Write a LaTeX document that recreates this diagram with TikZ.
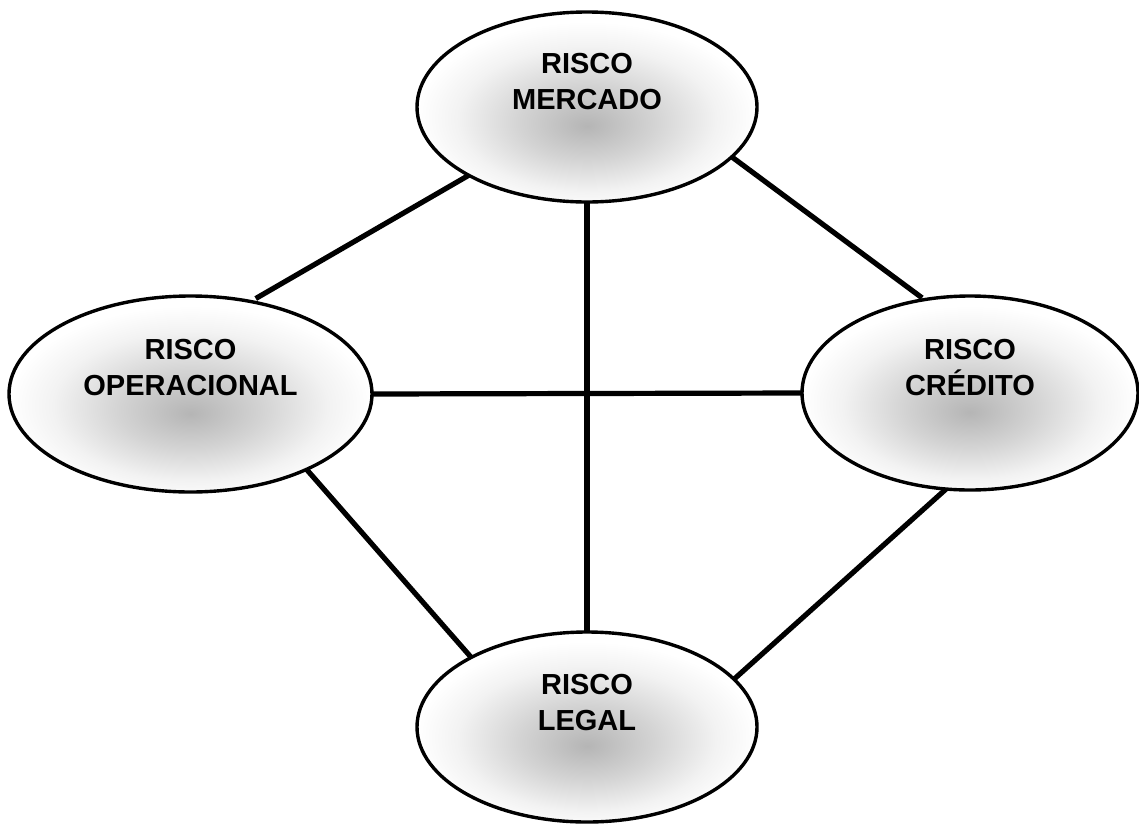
\documentclass[tikz,border=0pt]{standalone}
\usepackage{fontspec}
\setmainfont{Liberation Sans}
\usetikzlibrary{shapes.geometric}
\pgfdeclareradialshading{riskshade}{\pgfpoint{0bp}{-5bp}}{%
  color(0bp)=(black!29); color(10bp)=(black!17); color(19bp)=(black!5); color(25bp)=(white); color(50bp)=(white)}
\tikzset{
  riskell/.style={ellipse, draw=black, line width=3.4pt, shade, shading=riskshade,
    inner sep=0pt, outer sep=0pt},
  risklbl/.style={align=center, font=\bfseries\fontsize{29}{36}\selectfont, inner sep=0pt},
  link/.style={line width=5.2pt, black}
}
\begin{document}
\begin{tikzpicture}[x=1pt,y=-1pt]
\useasboundingbox (0,0) rectangle (1139,825);
\node[riskell, minimum width=340pt, minimum height=190pt] (m) at (587,107) {};
\node[riskell, minimum width=363pt, minimum height=196pt] (o) at (190.5,394) {};
\node[riskell, minimum width=336pt, minimum height=194pt] (c) at (970,393) {};
\node[riskell, minimum width=340pt, minimum height=190pt] (l) at (587,727) {};
\node[risklbl] (mt) at ([yshift=25pt]m.center) {RISCO\\MERCADO};
\node[risklbl] (ot) at ([yshift=26pt]o.center) {RISCO\\OPERACIONAL};
\node[risklbl] (ct) at ([yshift=25pt]c.center) {RISCO\\CRÉDITO};
\node[risklbl] (lt) at ([yshift=24pt]l.center) {RISCO\\LEGAL};
\draw[link, shorten >=6pt] (m.210.3) -- (o.57.7);
\draw[link, shorten >=3pt] (m.341.8) -- (c.116.3);
\draw[link] (m.south) -- (l.north);
\draw[link] (o.east) -- (c.west);
\draw[link] (o.-33.3) -- (l.149.6);
\draw[link] (c.-104.3) -- (l.18.6);
\end{tikzpicture}
\end{document}
